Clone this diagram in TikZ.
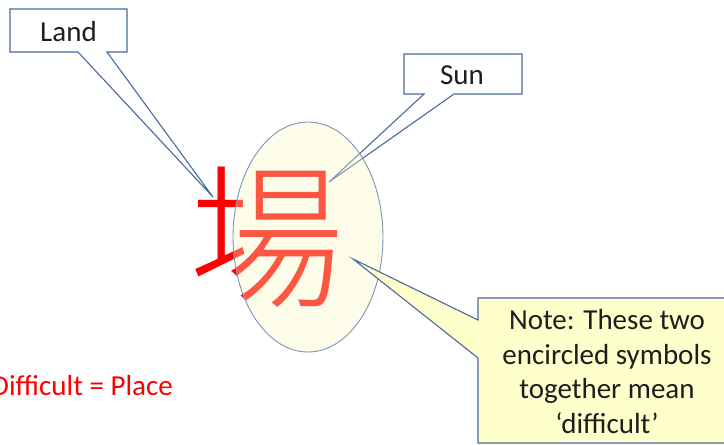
\documentclass[tikz,border=0pt]{standalone}
\usepackage{fontspec}
\usetikzlibrary{shapes.geometric}
\setmainfont{Carlito}
\newfontfamily\cjk{Noto Sans CJK JP Light}
\definecolor{boxblue}{RGB}{72,106,160}
\definecolor{ellblue}{RGB}{125,148,188}
\definecolor{notefill}{RGB}{255,255,204}
\definecolor{ellfill}{RGB}{250,250,195}
\definecolor{txt}{RGB}{30,30,30}
\definecolor{kred}{RGB}{255,0,0}
\begin{document}
\begin{tikzpicture}[x=1pt,y=-1pt,
  callout/.style={draw=boxblue,line width=1.1pt,line join=miter},
  lbl/.style={inner sep=0pt,anchor=base,text=txt,font=\fontsize{29}{35}\selectfont}]
\useasboundingbox (0,0) rectangle (724,445);
% Land callout
\coordinate (landtip) at (213,197);
\draw[callout,fill=white] (10,9) -- (127,9) -- (127,52) -- (107,52) -- (landtip) -- (78,52) -- (10,52) -- cycle;
\node[lbl] (land) at (68.5,41) {Land};
% Sun callout
\coordinate (suntip) at (329,182);
\draw[callout,fill=white] (404,54) -- (522,54) -- (522,94) -- (454,94) -- (suntip) -- (424,94) -- (404,94) -- cycle;
\node[lbl] (sun) at (462,84) {Sun};
% Kanji
\node[inner sep=0pt,anchor=base,text=kred,font={\cjk\fontsize{155}{160}\selectfont}] (kanji) at (267,295) {場};
% ellipse
\node[ellipse,draw=ellblue,line width=0.9pt,fill=ellfill,fill opacity=0.35,draw opacity=1,minimum width=150pt,minimum height=230pt,inner sep=0pt] (ell) at (308,237) {};
% Note callout
\coordinate (notetip) at (353,259);
\draw[callout,fill=notefill] (478,298) -- (740,298) -- (740,443) -- (478,443) -- (478,358) -- (notetip) -- (478,320) -- cycle;
\node[lbl] (n1) at (607,329) {Note: These two};
\node[lbl] (n2) at (607,364) {encircled symbols};
\node[lbl] (n3) at (607,398) {together mean};
\node[lbl] (n4) at (607,433) {‘difficult’};
% bottom left text
\node[inner sep=0pt,anchor=base east,text=kred,font=\fontsize{29}{35}\selectfont] (eq) at (173,395) {Difficult = Place};
\end{tikzpicture}
\end{document}
